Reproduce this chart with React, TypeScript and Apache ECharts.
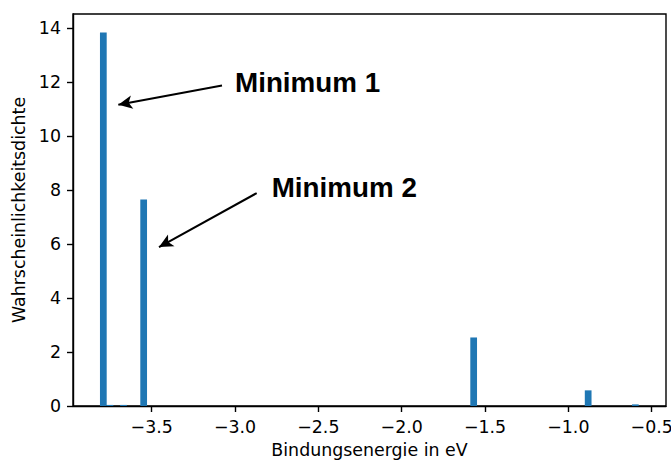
import React, { useEffect, useRef } from "react";
import * as echarts from "echarts";

// Histogram (density) of binding energies
const binCenters = [-3.790, -3.750, -3.669, -3.548, -1.568, -0.881, -0.598];
const densities = [13.84, 0.04, 0.04, 7.65, 2.54, 0.58, 0.06];
const binWidth = 0.0404;

const xTicks = [-3.5, -3.0, -2.5, -2.0, -1.5, -1.0, -0.5];
const yTicks = [0, 2, 4, 6, 8, 10, 12, 14];

const xRange = [-3.972, -0.414];
const yRange = [0, 14.53];

const annoLabels = ["Minimum 1", "Minimum 2"];
const annoText = [[-3.0, 12.0], [-2.78, 8.1]];
const annoTail = [[-3.078, 11.88], [-2.87, 7.89]];
const annoHead = [[-3.70, 11.17], [-3.456, 5.89]];

const TICK_FONT = "DejaVu Sans";
const FS = 17.4;

export default function App() {
  const ref = useRef<HTMLDivElement>(null);
  useEffect(() => {
    if (!ref.current) return;
    const chart = echarts.init(ref.current, null, { renderer: "svg" });
    const fmt = (v: number) => (v < 0 ? "\u2212" : "") + Math.abs(v).toFixed(1);
    chart.setOption({
      animation: false,
      backgroundColor: "#ffffff",
      grid: {
        left: 73,
        right: 5,
        top: 14,
        bottom: 54,
        containLabel: false,
        outerBoundsMode: "none",
        show: true,
        borderColor: "#000",
        borderWidth: 1.4,
        backgroundColor: "transparent",
      },
      xAxis: {
        type: "value",
        min: xRange[0],
        max: xRange[1],
        name: "Bindungsenergie in eV",
        nameLocation: "middle",
        nameGap: 35,
        nameTextStyle: { fontFamily: TICK_FONT, fontSize: FS, color: "#000" },
        axisLine: { show: true, onZero: false, lineStyle: { color: "#000", width: 1.4 } },
        axisTick: {
          show: true,
          length: 6,
          inside: false,
          customValues: xTicks,
          lineStyle: { color: "#000", width: 1.4 },
        },
        axisLabel: {
          customValues: xTicks,
          formatter: fmt,
          margin: 12,
          fontFamily: TICK_FONT,
          fontSize: FS,
          color: "#000",
          hideOverlap: false,
        },
        splitLine: { show: false },
      },
      yAxis: {
        type: "value",
        min: yRange[0],
        max: yRange[1],
        name: "Wahrscheinlichkeitsdichte",
        nameLocation: "middle",
        nameGap: 42,
        nameTextStyle: { fontFamily: TICK_FONT, fontSize: FS, color: "#000" },
        axisLine: { show: true, lineStyle: { color: "#000", width: 1.4 } },
        axisTick: {
          show: true,
          length: 6,
          customValues: yTicks,
          lineStyle: { color: "#000", width: 1.4 },
        },
        axisLabel: {
          customValues: yTicks,
          formatter: (v: number) => String(Math.round(v)),
          margin: 12,
          fontFamily: TICK_FONT,
          fontSize: FS,
          color: "#000",
        },
        splitLine: { show: false },
      },
      series: [
        {
          type: "custom",
          data: binCenters.map((c, i) => [c, densities[i]]),
          encode: { x: 0, y: 1 },
          clip: true,
          renderItem: (params: any, api: any) => {
            const c = api.value(0) as number;
            const h = api.value(1) as number;
            const p0 = api.coord([c - binWidth / 2, h]);
            const p1 = api.coord([c + binWidth / 2, 0]);
            return {
              type: "rect",
              shape: { x: p0[0], y: p0[1], width: p1[0] - p0[0], height: p1[1] - p0[1] },
              style: { fill: "#1f77b4" },
            };
          },
          markLine: {
            silent: true,
            symbol: ["none", "arrow"],
            symbolSize: [10, 14],
            label: { show: false },
            lineStyle: { color: "#000", width: 2, type: "solid" },
            data: annoTail.map((t, i) => [{ coord: t }, { coord: annoHead[i] }]),
          },
          markPoint: {
            silent: true,
            symbol: "circle",
            symbolSize: 0,
            label: {
              show: true,
              position: "right",
              distance: 0,
              fontFamily: "Liberation Sans, Arial",
              fontWeight: "bold",
              fontSize: 27.8,
              color: "#000",
              formatter: (p: any) => p.name,
            },
            data: annoText.map((t, i) => ({ name: annoLabels[i], coord: t })),
          },
        },
      ],
    });
    return () => chart.dispose();
  }, []);
  return (
    <div
      ref={ref}
      style={{ position: "fixed", left: 0, top: 0, width: 671, height: 460 }}
    />
  );
}
